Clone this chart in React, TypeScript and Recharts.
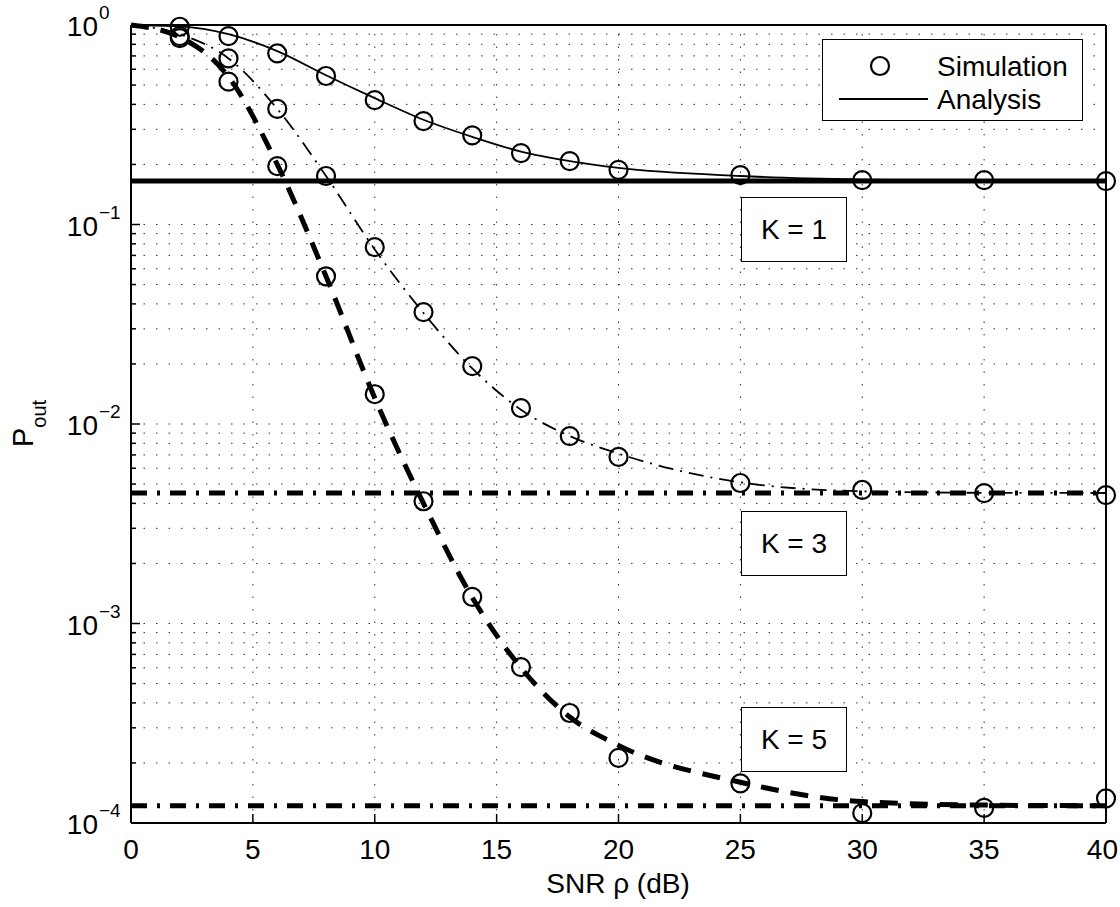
import {
  ComposedChart,
  Legend,
  Line,
  ReferenceLine,
  XAxis,
  YAxis,
} from "recharts";

// SNR points (dB)
const snrSim = [2, 4, 6, 8, 10, 12, 14, 16, 18, 20, 25, 30, 35, 40];
const snrAna = [0, 2, 4, 6, 8, 10, 12, 14, 16, 18, 20, 25, 30, 35, 40];

// simulated outage probability
const simK1 = [0.98, 0.88, 0.72, 0.555, 0.42, 0.33, 0.28, 0.228, 0.208, 0.188, 0.177, 0.167, 0.167, 0.165];
const simK3 = [0.88, 0.68, 0.38, 0.175, 0.077, 0.0364, 0.0195, 0.012, 0.0087, 0.00684, 0.00506, 0.00467, 0.0045, 0.0044];
const simK5 = [0.86, 0.52, 0.196, 0.055, 0.0141, 0.0041, 0.00136, 0.000605, 0.000356, 0.000212, 0.000158, 0.000112, 0.000119, 0.000133];

// analytical outage probability
const anaK1 = [1.0, 0.985, 0.9, 0.74, 0.56, 0.43, 0.335, 0.275, 0.232, 0.208, 0.192, 0.175, 0.168, 0.166, 0.1655];
const anaK3 = [1.0, 0.9, 0.68, 0.38, 0.175, 0.075, 0.036, 0.019, 0.0118, 0.0087, 0.0071, 0.0051, 0.0046, 0.00452, 0.00451];
const anaK5 = [1.0, 0.87, 0.55, 0.2, 0.055, 0.0135, 0.004, 0.00135, 0.0006, 0.00034, 0.000245, 0.00016, 0.000128, 0.000123, 0.000122];

// high-SNR floors
const floorK1 = 0.165;
const floorK3 = 0.00451;
const floorK5 = 0.000122;

const xTicks = [0, 5, 10, 15, 20, 25, 30, 35, 40];
const xGrid = [5, 10, 15, 20, 25, 30, 35];
const decades = [0.0001, 0.001, 0.01, 0.1, 1];
const mantissas = [2, 3, 4, 5, 6, 7, 8, 9];
const minorY = decades.slice(0, 4).flatMap((d) => mantissas.map((m) => m * d));
const yTicks = [...decades, ...minorY].sort((a, b) => a - b);

const FONT = "'Liberation Sans', Arial, sans-serif";

const toPoints = (xs: number[], ys: number[]) => xs.map((x, i) => ({ x, y: ys[i] }));

const isMajor = (v: number) => {
  const l = Math.log10(v);
  return Math.abs(l - Math.round(l)) < 1e-6;
};

function BottomTick({ x, y, payload }: any) {
  // keep the last label inside the page
  const last = payload.value === 40;
  return (
    <g>
      <line x1={x} x2={x} y1={y} y2={y - 9} stroke="#000" strokeWidth={1.5} />
      <text
        x={last ? x + 12 : x}
        y={y + 36}
        textAnchor={last ? "end" : "middle"}
        fontSize={28}
        fontFamily={FONT}
        fill="#000"
      >
        {payload.value}
      </text>
    </g>
  );
}

function TopTick({ x, y }: any) {
  return <line x1={x} x2={x} y1={y} y2={y + 9} stroke="#000" strokeWidth={1.5} />;
}

function LeftTick({ x, y, payload }: any) {
  const v = payload.value;
  const major = isMajor(v);
  const e = Math.round(Math.log10(v));
  return (
    <g>
      <line x1={x} x2={x + (major ? 9 : 5)} y1={y} y2={y} stroke="#000" strokeWidth={1.5} />
      {major && (
        <text x={x - 33} y={y + 11} textAnchor="end" fontSize={28} fontFamily={FONT} fill="#000">
          10
        </text>
      )}
      {major && (
        <text x={x - 32} y={y - 6} fontSize={19} fontFamily={FONT} fill="#000">
          {e === 0 ? "0" : "\u2212" + -e}
        </text>
      )}
    </g>
  );
}

function RightTick({ x, y, payload }: any) {
  const major = isMajor(payload.value);
  return <line x1={x} x2={x - (major ? 9 : 5)} y1={y} y2={y} stroke="#000" strokeWidth={1.5} />;
}

function LegendBox() {
  return (
    <div
      style={{
        width: 259,
        height: 80,
        border: "1.5px solid #000",
        background: "#fff",
        position: "relative",
        fontFamily: FONT,
        fontSize: 28,
        color: "#000",
      }}
    >
      <svg width={259} height={80} style={{ position: "absolute", left: 0, top: 0 }}>
        <circle cx={57} cy={26} r={9} fill="none" stroke="#000" strokeWidth={2.2} />
        <line x1={16} x2={105} y1={59} y2={59} stroke="#000" strokeWidth={2} />
        <text x={114} y={36} fontSize={28} fontFamily={FONT}>Simulation</text>
        <text x={114} y={69} fontSize={28} fontFamily={FONT}>Analysis</text>
      </svg>
    </div>
  );
}

const kBox = (top: number): any => ({
  position: "absolute",
  left: 741,
  top,
  width: 104,
  height: 63,
  border: "1.5px solid #000",
  background: "#fff",
  fontFamily: FONT,
  fontSize: 28,
  lineHeight: "63px",
  textAlign: "center",
  color: "#000",
});

export default function App() {
  const gridStyle = { stroke: "#333", strokeWidth: 1, strokeDasharray: "1.5 11" };
  return (
    <div style={{ position: "absolute", left: 0, top: 0, width: 1120, height: 907, background: "#fff" }}>
      <ComposedChart width={1120} height={907} margin={{ top: 0, right: 0, bottom: 0, left: 0 }}>
        <XAxis
          xAxisId="bottom"
          dataKey="x"
          type="number"
          domain={[0, 40]}
          ticks={xTicks}
          interval={0}
          height={84}
          tickSize={0}
          tickMargin={0}
          tickLine={false}
          axisLine={{ stroke: "#000", strokeWidth: 2 }}
          tick={<BottomTick />}
          label={{
            content: () => (
              <text x={618} y={893} textAnchor="middle" fontSize={28} fontFamily={FONT} fill="#000">
                SNR ρ (dB)
              </text>
            ),
          }}
        />
        <XAxis
          xAxisId="top"
          orientation="top"
          type="number"
          domain={[0, 40]}
          ticks={xTicks}
          interval={0}
          height={25}
          tickSize={0}
          tickMargin={0}
          tickLine={false}
          axisLine={{ stroke: "#000", strokeWidth: 2 }}
          tick={<TopTick />}
        />
        <YAxis
          yAxisId="left"
          dataKey="y"
          type="number"
          scale="log"
          domain={[0.0001, 1]}
          ticks={yTicks}
          interval={0}
          width={131}
          tickSize={0}
          tickMargin={0}
          tickLine={false}
          axisLine={{ stroke: "#000", strokeWidth: 2 }}
          tick={<LeftTick />}
          label={{
            content: () => (
              <text transform="translate(33,447) rotate(-90)" fontSize={29} fontFamily={FONT} fill="#000">
                P
                <tspan fontSize={20} dy={13}>
                  out
                </tspan>
              </text>
            ),
          }}
        />
        <YAxis
          yAxisId="right"
          orientation="right"
          type="number"
          scale="log"
          domain={[0.0001, 1]}
          ticks={yTicks}
          interval={0}
          width={14}
          tickSize={0}
          tickMargin={0}
          tickLine={false}
          axisLine={{ stroke: "#000", strokeWidth: 2 }}
          tick={<RightTick />}
        />

        {yTicks.slice(1, -1).map((v) => (
          <ReferenceLine key={"gy" + v} xAxisId="bottom" yAxisId="left" y={v} {...gridStyle} />
        ))}
        {xGrid.map((v) => (
          <ReferenceLine key={"gx" + v} xAxisId="bottom" yAxisId="left" x={v} {...gridStyle} />
        ))}

        <ReferenceLine xAxisId="bottom" yAxisId="left" y={floorK1} stroke="#000" strokeWidth={5} />
        <ReferenceLine xAxisId="bottom" yAxisId="left" y={floorK3} stroke="#000" strokeWidth={5} strokeDasharray="16 10 3 10" />
        <ReferenceLine xAxisId="bottom" yAxisId="left" y={floorK5} stroke="#000" strokeWidth={5} strokeDasharray="16 10 3 10" />

        <Line
          xAxisId="bottom"
          yAxisId="left"
          data={toPoints(snrAna, anaK1)}
          dataKey="y"
          type="monotone"
          stroke="#000"
          strokeWidth={1.8}
          dot={false}
          activeDot={false}
          isAnimationActive={false}
          legendType="none"
        />
        <Line
          xAxisId="bottom"
          yAxisId="left"
          data={toPoints(snrAna, anaK3)}
          dataKey="y"
          type="monotone"
          stroke="#000"
          strokeWidth={1.8}
          strokeDasharray="15 7 2 7"
          dot={false}
          activeDot={false}
          isAnimationActive={false}
          legendType="none"
        />
        <Line
          xAxisId="bottom"
          yAxisId="left"
          data={toPoints(snrAna, anaK5)}
          dataKey="y"
          type="monotone"
          stroke="#000"
          strokeWidth={5}
          strokeDasharray="18 12"
          dot={false}
          activeDot={false}
          isAnimationActive={false}
          legendType="none"
        />
        {[simK1, simK3, simK5].map((s, i) => (
          <Line
            key={"sim" + i}
            xAxisId="bottom"
            yAxisId="left"
            data={toPoints(snrSim, s)}
            dataKey="y"
            stroke="none"
            dot={{ r: 9, stroke: "#000", strokeWidth: 2.2, fill: "none" }}
            activeDot={false}
            isAnimationActive={false}
          />
        ))}
        <Legend
          layout="horizontal"
          verticalAlign="middle"
          align="center"
          wrapperStyle={{ left: 822, top: 39, width: 262, height: 83 }}
          content={() => <LegendBox />}
        />
      </ComposedChart>
      <div style={kBox(197)}>K = 1</div>
      <div style={kBox(511)}>K = 3</div>
      <div style={kBox(707)}>K = 5</div>
    </div>
  );
}
